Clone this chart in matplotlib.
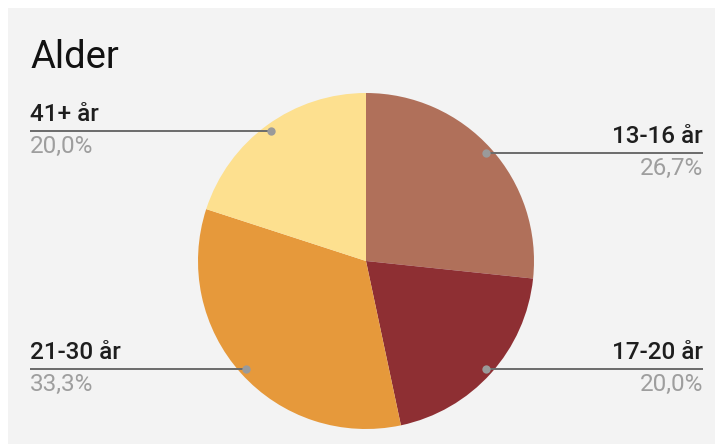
import numpy as np
import matplotlib.pyplot as plt
from matplotlib.patches import Rectangle

plt.rcParams['font.family'] = ['Roboto', 'DejaVu Sans']

# data
labels = ['13-16 år', '17-20 år', '21-30 år', '41+ år']
counts = [4, 3, 5, 3]
colors = ['#b0705a', '#8e2f33', '#e6993b', '#fde08f']
title = 'Alder'

W, H = 717, 444
fig = plt.figure(figsize=(W / 100, H / 100), dpi=100)
fig.patch.set_facecolor('white')

ax = fig.add_axes([0, 0, 1, 1])
ax.patch.set_alpha(0)
# card background
ax.add_patch(Rectangle((8, 0), 715 - 8, H - 8, facecolor='#f3f3f3',
                       edgecolor='none', zorder=-5))

cx, cy, r = 366, H - 261, 168
wedges, _ = ax.pie(counts, colors=colors, startangle=90, counterclock=False,
                   center=(cx, cy), radius=r,
                   wedgeprops=dict(linewidth=0))
ax.set_xlim(0, W)
ax.set_ylim(0, H)
ax.set_aspect('equal')
ax.axis('off')

total = sum(counts)
for w, lab, c in zip(wedges, labels, counts):
    mid = np.deg2rad((w.theta1 + w.theta2) / 2)
    dx = cx + 0.96 * r * np.cos(mid)
    dy = cy + 0.96 * r * np.sin(mid)
    # leader goes straight out to the side
    right = np.cos(mid) > 0
    xend = 703 if right else 30
    ha = 'right' if right else 'left'
    ax.plot([dx, xend], [dy, dy], color='#6b6b6b', lw=1.4, zorder=3,
            solid_capstyle='butt')
    ax.plot(dx, dy, 'o', ms=6, color='#9a9a9a', mec='none', zorder=4)
    pct = f'{100 * c / total:.1f}%'.replace('.', ',')
    ax.text(xend, dy + 5, lab, ha=ha, va='bottom', fontsize=17.5,
            color='#1e1e1e', fontweight='medium')
    ax.text(xend, dy - 4, pct, ha=ha, va='top', fontsize=17.5,
            color='#9e9e9e')

ax.text(30, H - 68, title, ha='left', va='baseline', fontsize=27.5,
        color='#111111')

fig.savefig('out.png', dpi=100, facecolor=fig.get_facecolor())
